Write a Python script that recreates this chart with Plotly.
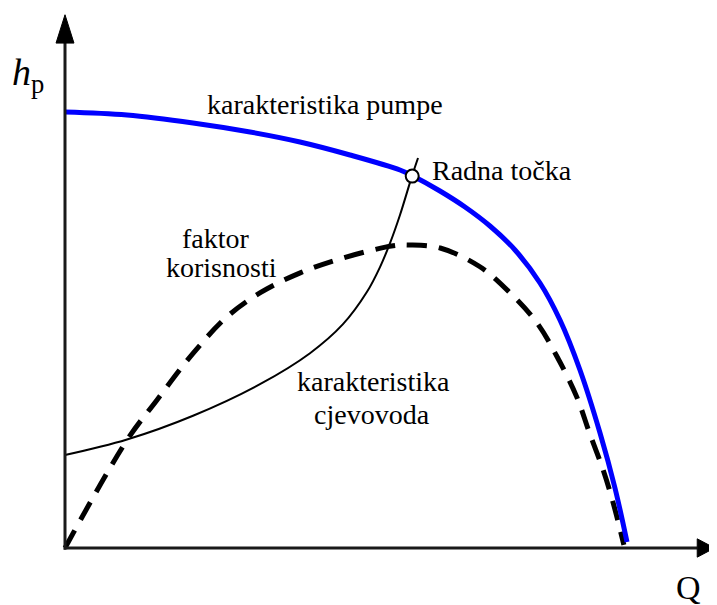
import plotly.graph_objects as go

# Pump characteristic (Q in % of max flow, head in % of shut-off head)
pump_Q = [0, 11.07, 22.86, 33.04, 41.96, 50.89, 59.82, 61.96, 66.96, 71.43, 75.89, 80.36, 84.82, 88.39, 91.96, 95.54, 98.21, 100.36]
pump_h = [100, 99.31, 97.48, 95.41, 93.12, 90.14, 86.70, 85.44, 81.88, 78.21, 73.85, 68.35, 60.78, 52.29, 40.83, 26.38, 13.76, 1.38]

# Pipeline (system) characteristic
pipe_Q = [0, 11.07, 22.86, 34.82, 43.75, 49.64, 53.93, 56.25, 58.04, 59.82, 61.96, 63.04]
pipe_h = [21.33, 24.89, 30.34, 37.57, 44.68, 51.33, 58.76, 64.43, 69.93, 76.38, 85.3, 89.45]

# Efficiency (faktor korisnosti), drawn on the same scale
eff_Q = [0, 11.1, 16.4, 22.9, 28.9, 34.8, 42.0, 49.6, 58.6, 61.6, 67.0, 74.1, 79.5, 84.3, 87.9, 91.4, 93.6, 96.1, 97.9, 99.8]
eff_v = [0, 24.8, 33.9, 44.7, 53.0, 58.5, 63.1, 66.5, 69.3, 69.5, 68.8, 64.5, 58.5, 51.6, 43.8, 34.6, 26.6, 17.9, 10.3, 0.7]

# Operating point
op_Q = [62.0]
op_h = [85.3]

SERIF = "Liberation Serif"

fig = go.Figure()
fig.add_trace(go.Scatter(x=eff_Q, y=eff_v, mode="lines",
                         line=dict(color="black", width=5, dash="20px,12px", shape="spline", smoothing=1.0),
                         hoverinfo="skip"))
fig.add_trace(go.Scatter(x=pipe_Q, y=pipe_h, mode="lines",
                         line=dict(color="black", width=2, shape="spline", smoothing=1.0),
                         hoverinfo="skip"))
fig.add_trace(go.Scatter(x=pump_Q, y=pump_h, mode="lines",
                         line=dict(color="#0000ff", width=5, shape="spline", smoothing=1.0),
                         hoverinfo="skip"))
fig.add_trace(go.Scatter(x=op_Q, y=op_h, mode="markers",
                         marker=dict(symbol="circle", size=13, color="white",
                                     line=dict(color="black", width=2)),
                         hoverinfo="skip"))

# Axes drawn as arrows
axis_col = "#1a1a1a"
shapes = [
    dict(type="line", xref="x", yref="y", x0=0, y0=-0.4, x1=0, y1=115.8,
         line=dict(color=axis_col, width=3)),
    dict(type="line", xref="x", yref="y", x0=-0.2, y0=0, x1=112.9, y1=0,
         line=dict(color=axis_col, width=3)),
    dict(type="path", xref="x", yref="y",
         path="M -1.6 115.8 L 0 122.3 L 1.6 115.8 Z",
         fillcolor="black", line=dict(color="black", width=1)),
    dict(type="path", xref="x", yref="y",
         path="M 112.9 2.1 L 116.0 0 L 112.9 -2.1 Z",
         fillcolor="black", line=dict(color="black", width=1)),
]

def ann(text, x, y, size=28, xanchor="center", ref="data"):
    r = dict(text=text, x=x, y=y, showarrow=False,
             xanchor=xanchor, yanchor="middle",
             font=dict(family=SERIF, size=size, color="black"))
    if ref == "paper":
        r.update(xref="paper", yref="paper")
    else:
        r.update(xref="x", yref="y")
    return r

annotations = [
    ann("karakteristika pumpe", 46.4, 101.8),
    ann("Radna točka", 65.2, 86.5, xanchor="left"),
    ann("faktor", 27.0, 70.9),
    ann("korisnosti", 27.9, 64.4),
    ann("karakteristika", 55.0, 38.3),
    ann("cjevovoda", 54.8, 30.7),
    ann("Q", 0.9577, -0.0547, size=34, ref="paper"),
    ann("<i>h</i><sub>p</sub>", -0.041, 0.881, size=38, ref="paper"),
]

fig.update_layout(
    width=709, height=597,
    margin=dict(l=47, r=0, t=2, b=47),
    paper_bgcolor="white", plot_bgcolor="white",
    showlegend=False,
    font=dict(family=SERIF),
    xaxis=dict(range=[-1.786, 116.43], visible=False, fixedrange=True),
    yaxis=dict(range=[-2.294, 123.39], visible=False, fixedrange=True),
    shapes=shapes,
    annotations=annotations,
)

fig.write_html("out.html")
